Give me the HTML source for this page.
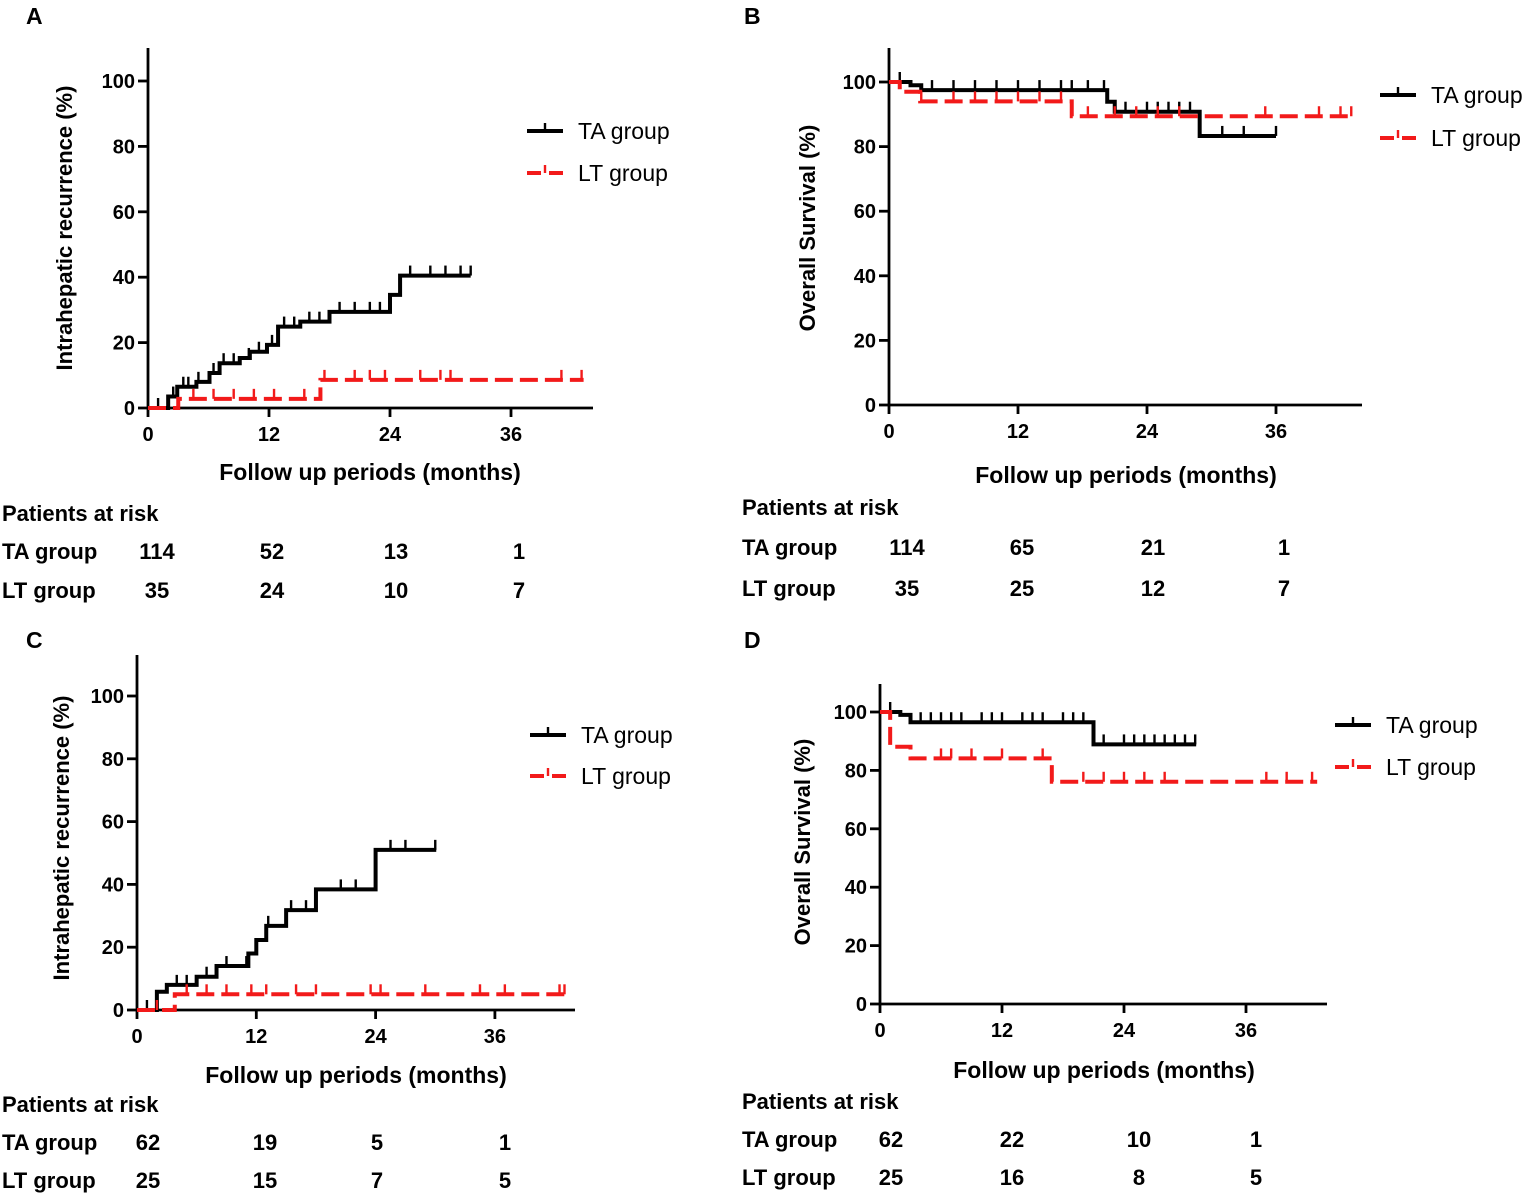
<!DOCTYPE html>
<html><head><meta charset="utf-8"><style>
body{margin:0;background:#fff}
svg{display:block;font-family:"Liberation Sans",Arial,sans-serif}
.b{font-weight:bold}
</style></head><body>
<svg id="s" width="1535" height="1194" viewBox="0 0 1535 1194"></svg>
<script>
// ---- data ----
const xTicks=[0,12,24,36];
const yTicks=[0,20,40,60,80,100];
const riskTimes=[0,12,24,36];
// Panel A
const aTA=[[0,0],[2,3.5],[2.9,6.5],[4.8,8],[6.1,10.7],[7.1,13.7],[9.1,15.3],[10.1,17.2],[11.8,19.3],[12.9,24.9],[15.1,26.4],[18,29.4],[24,34.6],[25,40.5]];
const aTAend=32;
const aTAcens=[1,2.5,3.5,4,5,6.5,7.5,8.5,10,11,12.3,13.5,14.5,16,17,19,20.5,22,23,26,28,29.5,31,32];
const aLT=[[0,0],[3,2.8],[17.1,8.6]];
const aLTend=43.2;
const aLTcens=[4.5,6.5,8.5,10.5,12.5,15.5,17.5,20.5,22,23.5,27,29,30,41,43];
const aRiskTA=[114,52,13,1];const aRiskLT=[35,24,10,7];
// Panel B
const bTA=[[0,100],[2,99],[3,97.5],[20.3,93.9],[21,90.8],[28.9,83.3]];
const bTAend=36;
const bTAcens=[1,4,6,8,10,12,14,16,17,18.5,20,22,24,25,26,27,28,31,33,36];
const bLT=[[0,100],[1,97],[2.9,94],[17,89.4]];
const bLTend=43;
const bLTcens=[3,6,8,10,12,14,16,18.5,21,23,25,27,35,40,42,43];
const bRiskTA=[114,65,21,1];const bRiskLT=[35,25,12,7];
// Panel C
const cTA=[[0,0],[2,5.8],[3,8],[6,10.6],[8,14],[11.2,18],[12,22.3],[13,26.8],[15,31.8],[18,38.4],[24,51]];
const cTAend=30.1;
const cTAcens=[1,4,5,7,9,11,13.2,15.5,17,20.5,22,25.5,27,30];
const cLT=[[0,0],[3.8,5]];
const cLTend=43;
const cLTcens=[2,5,7,9,11.5,13,16,18,23.5,24.5,29,34.5,37,42.5,43];
const cRiskTA=[62,19,5,1];const cRiskLT=[25,15,7,5];
// Panel D
const dTA=[[0,100],[2,99],[3,96.5],[21,88.9]];
const dTAend=31.1;
const dTAcens=[1,4,5,6,7,8,10,11,12,14,15,16,18,19,20,22,24,25,26,27,28,29,30,31];
const dLT=[[0,100],[1,88.1],[3,84.1],[16.9,76.1]];
const dLTend=43;
const dLTcens=[6,7,9,12,16,20,22,24,26,28,38,40,42.5];
const dRiskTA=[62,22,10,1];const dRiskLT=[25,16,8,5];

const NS="http://www.w3.org/2000/svg";
const svg=document.getElementById('s');
function mk(tag,attrs,parent,txt){const e=document.createElementNS(NS,tag);for(const k in attrs)e.setAttribute(k,attrs[k]);if(txt!==undefined)e.textContent=txt;(parent||svg).appendChild(e);return e;}

function panel(cfg){
  const g=mk('g',{});
  
  
  const X=m=>cfg.x0+m*cfg.pxm, Y=v=>cfg.y0-v*cfg.pxv;
  const lt=mk('text',{x:cfg.lx,y:cfg.ly,'font-size':23,'class':'b'},g,cfg.id);
  
  const ya=mk('line',{x1:cfg.x0,y1:cfg.ytop,x2:cfg.x0,y2:cfg.y0+1,stroke:'#000','stroke-width':2.8},g);
  
  const xa=mk('line',{x1:cfg.x0-1,y1:cfg.y0,x2:cfg.xend,y2:cfg.y0,stroke:'#000','stroke-width':2.8},g);
  
  yTicks.forEach(v=>{
    mk('line',{x1:cfg.x0-10,y1:Y(v),x2:cfg.x0,y2:Y(v),stroke:'#000','stroke-width':2.8},g);
    const t=mk('text',{x:cfg.x0-13,y:Y(v)+7,'font-size':20,'class':'b','text-anchor':'end'},g,v);
    
  });
  xTicks.forEach(m=>{
    mk('line',{x1:X(m),y1:cfg.y0,x2:X(m),y2:cfg.y0+9,stroke:'#000','stroke-width':2.8},g);
    const t=mk('text',{x:X(m),y:cfg.y0+33,'font-size':20,'class':'b','text-anchor':'middle'},g,m);
    
  });
  const yt=mk('text',{x:0,y:0,'font-size':22,'class':'b','text-anchor':'middle',transform:`translate(${cfg.ytx},${cfg.yty}) rotate(-90)`},g,cfg.ytitle);
  
  const xt=mk('text',{x:cfg.xtx,y:cfg.xty,'font-size':23,'class':'b','text-anchor':'middle'},g,'Follow up periods (months)');
  
  function series(pts,end,cens,color,dash,name){
    let d=`M${X(pts[0][0])},${Y(pts[0][1])}`;
    for(let i=1;i<pts.length;i++){d+=` H${X(pts[i][0])} V${Y(pts[i][1])}`;}
    d+=` H${X(end)}`;
    const p=mk('path',{d:d,fill:'none',stroke:color,'stroke-width':4,'stroke-dasharray':dash||'none'},g);
    
    cens.forEach(m=>{
      let v=pts[0][1];for(const q of pts)if(q[0]<=m)v=q[1];
      const c=mk('line',{x1:X(m),y1:Y(v),x2:X(m),y2:Y(v)-10,stroke:color,'stroke-width':2.4},g);
      
    });
  }
  series(cfg.ta,cfg.taEnd,cfg.taC,'#000',null,'ta-group');
  series(cfg.lt,cfg.ltEnd,cfg.ltC,'#f21a1a','18,7','lt-group');
  [['TA group','#000',null,0],['LT group','#f21a1a','14,8',1]].forEach(([n,c,ds,i])=>{
    const yy=cfg.legY+i*cfg.legDy;
    const lg=mk('g',{},g);
    
    mk('line',{x1:cfg.legX,y1:yy,x2:cfg.legX+36,y2:yy,stroke:c,'stroke-width':4,'stroke-dasharray':ds||'none'},lg);
    mk('line',{x1:cfg.legX+18,y1:yy,x2:cfg.legX+18,y2:yy-8,stroke:c,'stroke-width':2.4},lg);
    mk('text',{x:cfg.legX+51,y:yy+8,'font-size':23},lg,n);
  });
  const rt=mk('g',{},g);
  
  mk('text',{x:cfg.rx,y:cfg.ry[0]+8,'font-size':22,'class':'b'},rt,'Patients at risk');
  [['TA group',cfg.rTA],['LT group',cfg.rLT]].forEach(([n,arr],i)=>{
    const yy=cfg.ry[i+1]+8;
    mk('text',{x:cfg.rx,y:yy,'font-size':22,'class':'b'},rt,n);
    arr.forEach((v,j)=>{
      const t=mk('text',{x:cfg.rcols[j],y:yy,'font-size':22,'class':'b','text-anchor':'middle'},rt,v);
      
    });
  });
}
panel({id:'A',lx:26,ly:24,x0:148,y0:408,pxm:121/12,pxv:3.27,ytop:48,xend:593,ytitle:'Intrahepatic recurrence (%)',ytx:72,yty:228,xtx:370,xty:480,
  ta:aTA,taEnd:aTAend,taC:aTAcens,lt:aLT,ltEnd:aLTend,ltC:aLTcens,legX:527,legY:131,legDy:42,
  rx:2,ry:[513,551,590],rcols:[157,272,396,519],rTA:aRiskTA,rLT:aRiskLT});
panel({id:'B',lx:744,ly:24,x0:889,y0:405,pxm:129/12,pxv:3.23,ytop:48,xend:1362,ytitle:'Overall Survival (%)',ytx:815,yty:228,xtx:1126,xty:483,
  ta:bTA,taEnd:bTAend,taC:bTAcens,lt:bLT,ltEnd:bLTend,ltC:bLTcens,legX:1380,legY:95,legDy:43,
  rx:742,ry:[507,547,588],rcols:[907,1022,1153,1284],rTA:bRiskTA,rLT:bRiskLT});
panel({id:'C',lx:26,ly:648,x0:137,y0:1010,pxm:119.3/12,pxv:3.14,ytop:655,xend:575,ytitle:'Intrahepatic recurrence (%)',ytx:69,yty:838,xtx:356,xty:1083,
  ta:cTA,taEnd:cTAend,taC:cTAcens,lt:cLT,ltEnd:cLTend,ltC:cLTcens,legX:530,legY:735,legDy:41,
  rx:2,ry:[1104,1142,1180],rcols:[148,265,377,505],rTA:cRiskTA,rLT:cRiskLT});
panel({id:'D',lx:744,ly:648,x0:880,y0:1004,pxm:122/12,pxv:2.92,ytop:684,xend:1327,ytitle:'Overall Survival (%)',ytx:810,yty:842,xtx:1104,xty:1078,
  ta:dTA,taEnd:dTAend,taC:dTAcens,lt:dLT,ltEnd:dLTend,ltC:dLTcens,legX:1335,legY:725,legDy:42,
  rx:742,ry:[1101,1139,1177],rcols:[891,1012,1139,1256],rTA:dRiskTA,rLT:dRiskLT});
</script>
</body></html>
